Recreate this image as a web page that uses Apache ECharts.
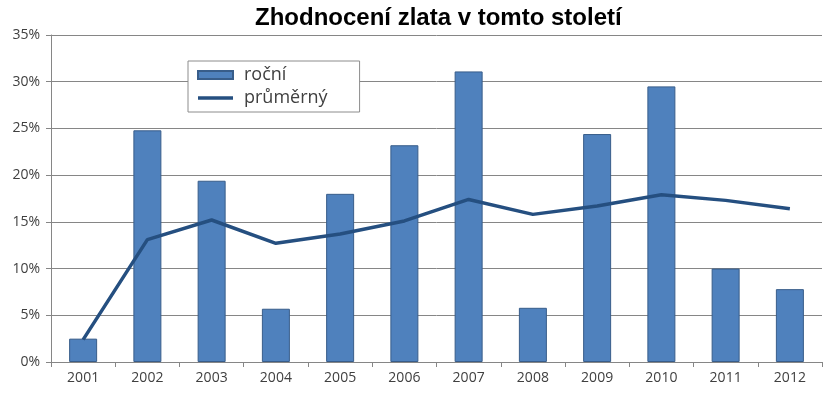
<!DOCTYPE html>
<html><head><meta charset="utf-8">
<script src="https://cdn.jsdelivr.net/npm/echarts@6/dist/echarts.min.js"></script>
<style>html,body{margin:0;padding:0;background:#fff}#c{width:837px;height:393px}</style>
</head><body><div id="c"></div>
<script>
const title = 'Zhodnocení zlata v tomto století';
const years = ['2001','2002','2003','2004','2005','2006','2007','2008','2009','2010','2011','2012'];
const rocni = [2.5, 24.8, 19.4, 5.7, 18.0, 23.2, 31.1, 5.8, 24.4, 29.5, 10.0, 7.8];
const prumerny = [2.4, 13.1, 15.2, 12.7, 13.7, 15.1, 17.4, 15.8, 16.7, 17.9, 17.3, 16.4];
const yTicks = {min: 0, max: 35, interval: 5};

const chart = echarts.init(document.getElementById('c'));
chart.setOption({
  animation: false,
  title: {text: title, left: 250, top: 1,
    textStyle: {fontFamily: 'Liberation Sans', fontWeight: 'bold', fontSize: 24, color: '#000'}},
  grid: {left: 51, right: 15, top: 35, bottom: 31},
  legend: {
    orient: 'vertical', left: 188, top: 61,
    padding: [5, 32, 5, 9], itemGap: 5,
    borderColor: '#8c8c8c', borderWidth: 1, backgroundColor: '#fff',
    itemWidth: 35, itemHeight: 8,
    textStyle: {fontFamily: 'Open Sans', fontSize: 18, color: '#404040', padding: [0, 0, 0, 6]},
    data: [
      {name: 'roční', icon: 'rect'},
      {name: 'průměrný', icon: 'path://M0,0 L35,0 L35,3.5 L0,3.5 Z'}
    ]
  },
  xAxis: {
    type: 'category', data: years, boundaryGap: true,
    axisLine: {lineStyle: {color: '#868686'}},
    axisTick: {show: true, length: 5, lineStyle: {color: '#868686'}},
    axisLabel: {fontFamily: 'Open Sans', fontSize: 14, color: '#404040', margin: 9}
  },
  yAxis: {
    type: 'value', min: yTicks.min, max: yTicks.max, interval: yTicks.interval,
    axisLine: {show: true, lineStyle: {color: '#868686'}},
    axisTick: {show: true, length: 5, lineStyle: {color: '#868686'}},
    splitLine: {lineStyle: {color: '#868686'}},
    axisLabel: {fontFamily: 'Open Sans', fontSize: 14, color: '#404040', margin: 11,
      formatter: v => v + '%'}
  },
  series: [
    {name: 'roční', type: 'bar', data: rocni, barWidth: 28,
      itemStyle: {color: '#4F81BD', borderColor: '#385D8A', borderWidth: 1}},
    {name: 'průměrný', type: 'line', data: prumerny, symbol: 'none',
      lineStyle: {color: '#254F80', width: 3.5}, itemStyle: {color: '#254F80'}}
  ]
});
</script></body></html>
